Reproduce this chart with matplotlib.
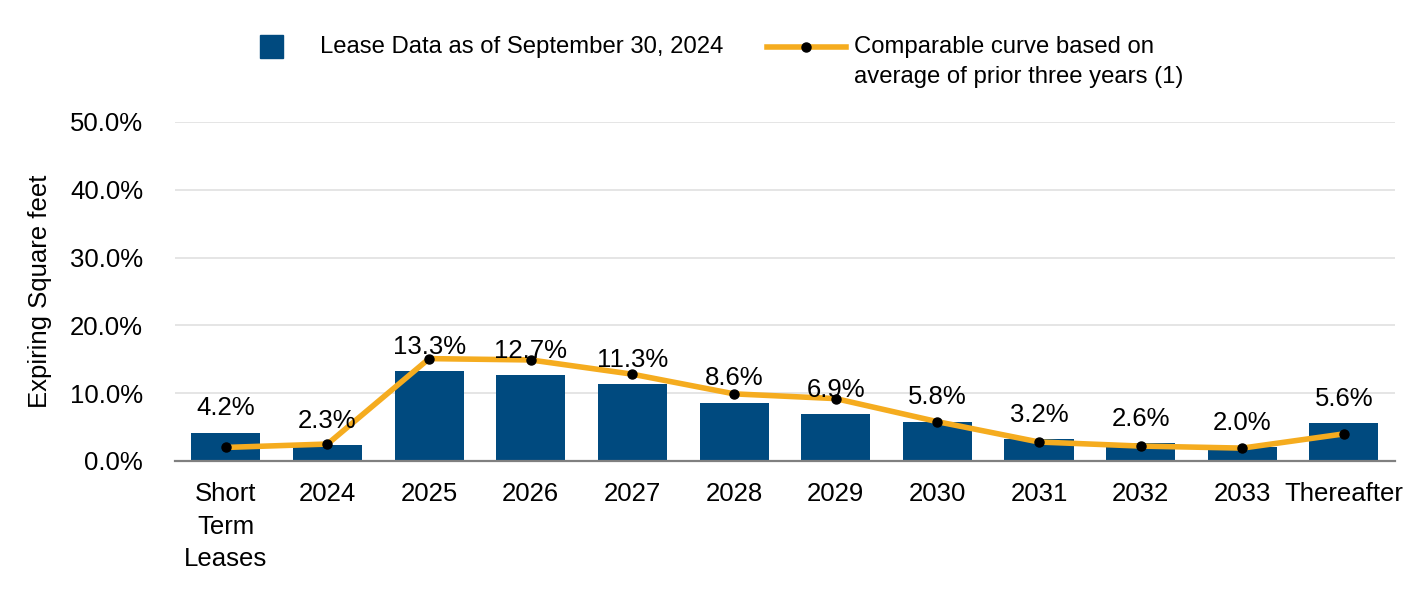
import matplotlib
matplotlib.use("Agg")
import matplotlib.pyplot as plt
from matplotlib.lines import Line2D
from matplotlib.patches import Rectangle

plt.rcParams['font.family'] = ['Liberation Sans', 'DejaVu Sans']

categories = ["Short\nTerm\nLeases", "2024", "2025", "2026", "2027", "2028",
              "2029", "2030", "2031", "2032", "2033", "Thereafter"]
lease_data = [4.2, 2.3, 13.3, 12.7, 11.3, 8.6, 6.9, 5.8, 3.2, 2.6, 2.0, 5.6]
comparable = [2.0, 2.5, 15.1, 14.9, 12.8, 9.9, 9.2, 5.8, 2.8, 2.2, 1.9, 4.0]
yticks = [0, 10, 20, 30, 40, 50]

bar_color = "#004A7F"
line_color = "#F5AC1F"
FS = 18.5
LFS = 17.2

fig = plt.figure(figsize=(14.16, 5.92), dpi=100)
ax = fig.add_axes([0.1236, 0.2213, 0.8614, 0.5727])

x = list(range(len(categories)))
ax.bar(x, lease_data, width=0.68, color=bar_color, zorder=2)
ax.plot(x, comparable, color=line_color, lw=4.0, zorder=3,
        marker='o', markersize=6.5, markerfacecolor='black', markeredgecolor='black',
        solid_joinstyle='round')

for xi, v in zip(x, lease_data):
    ax.annotate(f"{v:.1f}%", (xi, v), xytext=(0, 17.5), textcoords='offset points',
                ha='center', va='center', fontsize=FS, color='black', zorder=4)

ax.set_xlim(-0.5, 11.5)
ax.set_ylim(0, 50)
ax.set_yticks(yticks)
ax.set_yticklabels([f"{t:.1f}%" for t in yticks], fontsize=FS)
ax.set_xticks(x)
ax.set_xticklabels(categories, fontsize=FS, linespacing=1.46, va='top')
ax.tick_params(axis='both', length=0)
ax.tick_params(axis='y', pad=23)
ax.tick_params(axis='x', pad=15)
ax.yaxis.grid(True, color='#E0E0E0', lw=1.2, zorder=0)
ax.set_axisbelow(True)
for s in ['top', 'right', 'left']:
    ax.spines[s].set_visible(False)
ax.spines['bottom'].set_color('#808080')
ax.spines['bottom'].set_linewidth(1.6)
ax.spines['bottom'].set_zorder(5)
ax.set_ylabel("Expiring Square feet", fontsize=FS, labelpad=13)

# Legend (manual)
W, H = 1416, 592
fig.patches.append(Rectangle((260 / W, 1 - 58 / H), 23 / W, 23 / H,
                             transform=fig.transFigure, color=bar_color))
fig.text(320 / W, 1 - 47 / H, "Lease Data as of September 30, 2024",
         fontsize=LFS, va='center', ha='left')
fig.lines.append(Line2D([767 / W, 846 / W], [1 - 47 / H, 1 - 47 / H],
                        transform=fig.transFigure, color=line_color, lw=4.0))
fig.lines.append(Line2D([806 / W], [1 - 47 / H], transform=fig.transFigure,
                        marker='o', markersize=6.5, color='black', lw=0))
fig.text(854 / W, 1 - 47 / H, "Comparable curve based on", fontsize=LFS,
         va='center', ha='left')
fig.text(854 / W, 1 - 77 / H, "average of prior three years (1)", fontsize=LFS,
         va='center', ha='left')

fig.savefig("out.png", dpi=100)
